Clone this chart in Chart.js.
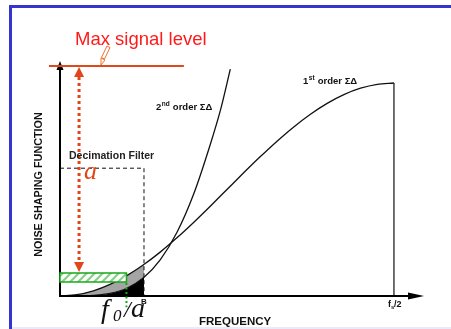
<!DOCTYPE html>
<html><head><meta charset="utf-8">
<script src="https://cdn.jsdelivr.net/npm/chart.js@4/dist/chart.umd.min.js"></script>
<style>html,body{margin:0;padding:0;background:#fff}#wrap{position:relative;width:451px;height:329px}canvas{display:block}</style>
</head><body><div id="wrap"><canvas id="c" width="451" height="329"></canvas></div>
<script>
// normalized frequency f/(fs/2)
const freq1 = [0,0.05,0.1,0.15,0.2,0.25,0.3,0.35,0.4,0.45,0.5,0.55,0.6,0.65,0.7,0.75,0.8,0.85,0.9,0.95,1.0];
const order1 = [0,0.025,0.098,0.218,0.382,0.586,0.824,1.092,1.382,1.687,2.0,2.313,2.618,2.908,3.176,3.414,3.618,3.782,3.902,3.975,4.0];
const freq2 = [0,0.05,0.1,0.15,0.2,0.25,0.3,0.35,0.4,0.45,0.48,0.51];
const order2 = [0,0.0006,0.0096,0.0475,0.146,0.343,0.679,1.192,1.910,2.846,3.48,4.26];
const bandFreq = [0,0.05,0.1,0.15,0.2,0.2515];
const band1 = [0,0.025,0.098,0.218,0.382,0.593];
const band2 = [0,0.0006,0.0096,0.0475,0.146,0.351];
const tickLabels = ['B','fs/2'];
const maxSignal = 4.32;
const filterLevel = 2.40;
const quantBox = [0.263,0.432];
const pts = (xs,ys)=>xs.map((x,i)=>({x:x,y:ys[i]}));

const annot = {
  id:'annot',
  afterDatasetsDraw(chart){
    const c=chart.ctx, X=chart.scales.x, Y=chart.scales.y;
    const px=u=>X.getPixelForValue(u), py=v=>Y.getPixelForValue(v);
    const x0=px(0), y0=py(0), xB=px(bandFreq[bandFreq.length-1]), xF=px(1);
    c.save();
    // frame
    c.strokeStyle='#3434d0'; c.lineWidth=3;
    c.beginPath(); c.moveTo(10.5,330); c.lineTo(10.5,6.5); c.lineTo(452,6.5); c.stroke();
    c.strokeStyle='#e4e2f8'; c.lineWidth=1.5;
    c.beginPath(); c.moveTo(12,328); c.lineTo(451,328); c.stroke();
    // fs/2 vertical
    c.strokeStyle='#111'; c.lineWidth=1.2;
    c.beginPath(); c.moveTo(xF,py(4.0)); c.lineTo(xF,y0); c.stroke();
    // decimation filter dashed
    c.setLineDash([4,3]); c.lineWidth=1;
    c.beginPath(); c.moveTo(x0,py(filterLevel)); c.lineTo(xB,py(filterLevel)); c.lineTo(xB,y0); c.stroke();
    c.setLineDash([]);
    // axes
    c.strokeStyle='#000'; c.lineWidth=2;
    c.beginPath(); c.moveTo(x0,y0); c.lineTo(x0,66); c.stroke();
    c.beginPath(); c.moveTo(x0-1,y0); c.lineTo(410,y0); c.stroke();
    c.fillStyle='#000';
    c.beginPath(); c.moveTo(x0,61); c.lineTo(x0-3.5,70); c.lineTo(x0+3.5,70); c.closePath(); c.fill();
    c.beginPath(); c.moveTo(424,y0); c.lineTo(408,y0-3.5); c.lineTo(408,y0+3.5); c.closePath(); c.fill();
    // green hatched box
    const gx1=px(0.199), gy1=py(quantBox[1]), gy2=py(quantBox[0]);
    const pc=document.createElement('canvas'); pc.width=8; pc.height=8;
    const p=pc.getContext('2d'); p.fillStyle='#fff'; p.fillRect(0,0,8,8);
    p.strokeStyle='#86d08a'; p.lineWidth=2.2;
    p.beginPath(); p.moveTo(-2,10); p.lineTo(10,-2); p.moveTo(-2,2); p.lineTo(2,-2); p.moveTo(6,10); p.lineTo(10,6); p.stroke();
    c.fillStyle=c.createPattern(pc,'repeat');
    c.fillRect(x0,gy1,gx1-x0,gy2-gy1);
    c.strokeStyle='#1aa81a'; c.lineWidth=1.5;
    c.strokeRect(x0,gy1,gx1-x0,gy2-gy1);
    c.setLineDash([2,2.5]); c.lineWidth=2;
    c.beginPath(); c.moveTo(gx1,gy2+1); c.lineTo(gx1,py(-0.21)); c.stroke();
    c.setLineDash([]);
    // max signal level line
    const my=py(maxSignal);
    c.strokeStyle='#dc4a1e'; c.lineWidth=2;
    c.beginPath(); c.moveTo(49,my); c.lineTo(px(0.371),my); c.stroke();
    // red dotted double arrow
    const ax=px(0.057);
    c.strokeStyle='#e0461a'; c.lineWidth=3; c.setLineDash([3,3]);
    c.beginPath(); c.moveTo(ax,my+11); c.lineTo(ax,gy1-10); c.stroke();
    c.setLineDash([]); c.fillStyle='#e0461a';
    c.beginPath(); c.moveTo(ax,my+1); c.lineTo(ax-5,my+11); c.lineTo(ax+5,my+11); c.closePath(); c.fill();
    c.beginPath(); c.moveTo(ax,gy1-1); c.lineTo(ax-5,gy1-11); c.lineTo(ax+5,gy1-11); c.closePath(); c.fill();
    // pointer icon
    c.strokeStyle='#f07030'; c.lineWidth=1;
    c.beginPath(); c.moveTo(107,46); c.lineTo(110,47.5); c.lineTo(104.5,59); c.lineTo(101.5,57.5); c.closePath(); c.stroke();
    c.beginPath(); c.moveTo(101,58); c.lineTo(105,60); c.lineTo(101,65); c.closePath(); c.stroke();
    // texts
    c.fillStyle='#ff1a1a'; c.font='18.5px "Liberation Sans", Arial, sans-serif'; c.textBaseline='alphabetic';
    c.fillText('Max signal level',75,45);
    c.fillStyle='#e0461a'; c.font='italic 26px "Liberation Serif", serif';
    c.fillText('a',84,179);
    c.fillStyle='#222'; c.font='bold 10.5px "Liberation Sans", Arial, sans-serif';
    c.fillText('Decimation Filter',69,159);
    const sup=(base,sp,rest,x,y)=>{
      c.font='bold 9.5px "Liberation Sans", Arial, sans-serif'; c.fillText(base,x,y); x+=c.measureText(base).width;
      c.font='bold 6.5px "Liberation Sans", Arial, sans-serif'; c.fillText(sp,x+0.5,y-4); x+=c.measureText(sp).width+1;
      c.font='bold 9.5px "Liberation Sans", Arial, sans-serif'; c.fillText(rest,x,y);
    };
    c.fillStyle='#111';
    sup('2','nd',' order ΣΔ',156,110);
    sup('1','st',' order ΣΔ',303,84);
    // fs/2 label
    c.font='bold 9px "Liberation Sans", Arial, sans-serif';
    c.fillText('f',388,307); c.font='bold 6px "Liberation Sans", Arial, sans-serif'; c.fillText('s',391,309);
    c.font='bold 9px "Liberation Sans", Arial, sans-serif'; c.fillText('/2',394,307);
    // FREQUENCY
    c.font='bold 11.5px "Liberation Sans", Arial, sans-serif'; c.fillText('FREQUENCY',199,325);
    // y label
    c.save(); c.translate(42,184.5); c.rotate(-Math.PI/2); c.textAlign='center';
    c.font='bold 10.8px "Liberation Sans", Arial, sans-serif'; c.fillText('NOISE SHAPING FUNCTION',0,0); c.restore();
    // f0 / a
    c.fillStyle='#111'; c.font='italic 28px "Liberation Serif", serif';
    c.fillText('f',101,318);
    c.font='italic 17px "Liberation Serif", serif'; c.fillText('0',113,321);
    c.font='italic 24px "Liberation Serif", serif'; c.fillText('/',124,317);
    c.font='italic 28px "Liberation Serif", serif'; c.fillText('a',131,317);
    c.font='bold 8px "Liberation Sans", Arial, sans-serif'; c.fillText(tickLabels[0],141,304);
    c.restore();
  }
};

new Chart(document.getElementById('c'),{
  type:'scatter',
  data:{datasets:[
    {label:'1st order',data:pts(freq1,order1),showLine:true,borderColor:'#111',borderWidth:1.3,pointRadius:0,cubicInterpolationMode:'monotone',fill:false},
    {label:'2nd order',data:pts(freq2,order2),showLine:true,borderColor:'#111',borderWidth:1.3,pointRadius:0,cubicInterpolationMode:'monotone',fill:false},
    {label:'band1',data:pts(bandFreq,band1),showLine:true,borderWidth:0,borderColor:'rgba(0,0,0,0)',pointRadius:0,cubicInterpolationMode:'monotone',fill:'+1',backgroundColor:'#a4a4a4'},
    {label:'band2',data:pts(bandFreq,band2),showLine:true,borderWidth:0,borderColor:'rgba(0,0,0,0)',pointRadius:0,cubicInterpolationMode:'monotone',fill:'origin',backgroundColor:'#000'}
  ]},
  options:{
    responsive:false,animation:false,
    layout:{padding:{left:60,right:31,top:60,bottom:33}},
    scales:{x:{type:'linear',min:0,max:1.078,display:false},y:{type:'linear',min:0,max:4.432,display:false}},
    plugins:{legend:{display:false},tooltip:{enabled:false}}
  },
  plugins:[annot]
});
</script></body></html>
